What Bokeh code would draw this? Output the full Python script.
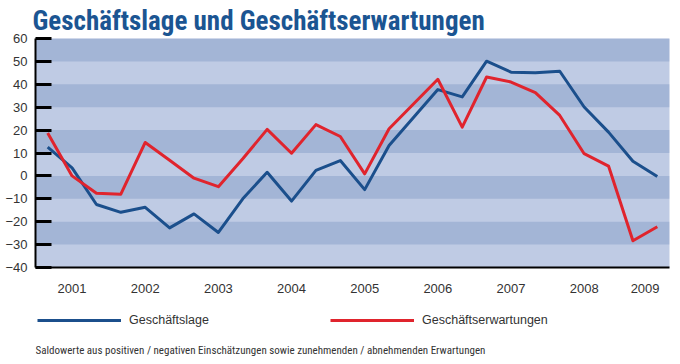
from bokeh.plotting import figure
from bokeh.layouts import column
from bokeh.models import FixedTicker, Label, Legend, LegendItem, BoxAnnotation, Range1d
from bokeh.embed import file_html
from bokeh.resources import INLINE

# ---- data ----
years = ["2001", "2002", "2003", "2004", "2005", "2006", "2007", "2008", "2009"]
surveys_per_year = [3, 3, 3, 3, 3, 3, 3, 3, 2]
geschaeftslage = [12.6, 3.5, -12.5, -15.9, -13.7, -22.7, -16.6, -24.7, -10.0,
                  1.6, -11.0, 2.4, 6.7, -6.0, 13.3, 25.5, 37.7, 34.5, 50.1,
                  45.3, 45.0, 45.7, 30.1, 19.1, 6.4, -0.3]
geschaeftserwartungen = [18.7, 0.0, -7.6, -8.0, 14.6, 6.8, -1.0, -4.7, 7.5,
                         20.3, 9.9, 22.4, 17.2, 0.9, 20.6, 31.4, 42.2, 21.3,
                         43.2, 41.0, 36.4, 26.4, 9.7, 4.3, -28.3, -22.2]
y_ticks = [-40, -30, -20, -10, 0, 10, 20, 30, 40, 50, 60]
band_bottoms = [50, 30, 10, -10, -30]
series_names = ["Geschäftslage", "Geschäftserwartungen"]

title_text = "Geschäftslage und Geschäftserwartungen"
footnote_text = ("Saldowerte aus positiven / negativen Einschätzungen sowie "
                 "zunehmenden / abnehmenden Erwartungen")

# ---- derived positions ----
n = len(geschaeftslage)
xs = list(range(n))
year_centers = []
start = 0
for cnt in surveys_per_year:
    year_centers.append(start + (cnt - 1) / 2)
    start += cnt

BLUE = "#1b4f8c"
RED = "#e0242d"
DARK = "#a3b5d6"
LIGHT = "#bfcbe4"
TXT = "#333333"
NARROW = "'Liberation Sans Narrow', 'Roboto Condensed', 'Liberation Sans', sans-serif"
SANS = "'Liberation Sans', sans-serif"
W = 672
LEFT, RIGHT = 35, 3

# ---- main chart ----
p = figure(width=W, height=300, output_backend="svg", toolbar_location=None,
           x_range=Range1d(-0.5, n - 0.5), y_range=Range1d(y_ticks[0], y_ticks[-1]),
           min_border_left=LEFT, min_border_right=RIGHT, min_border_top=38,
           min_border_bottom=33)
p.outline_line_color = None
p.background_fill_color = LIGHT
p.border_fill_color = "white"
p.xgrid.visible = False
p.ygrid.visible = False

p.title.text = title_text
p.title.text_font = NARROW
p.title.text_font_style = "bold"
p.title.text_font_size = "27px"
p.title.text_color = "#1b5592"
p.title.align = "left"
p.title.offset = -3
p.title.standoff = 4

for b in band_bottoms:
    p.add_layout(BoxAnnotation(bottom=b, top=b + 10, fill_color=DARK,
                               fill_alpha=1, line_color=None, level="underlay"))

p.line(xs, geschaeftslage, line_color=BLUE, line_width=3, line_join="round")
p.line(xs, geschaeftserwartungen, line_color=RED, line_width=3, line_join="round")

ya = p.yaxis[0]
ya.ticker = FixedTicker(ticks=y_ticks)
ya.axis_line_color = "black"
ya.axis_line_width = 2
ya.major_tick_line_color = "black"
ya.major_tick_line_width = 3
ya.major_tick_in = 16
ya.major_tick_out = 0
ya.minor_tick_line_color = None
ya.major_label_standoff = 8
ya.major_label_text_font = SANS
ya.major_label_text_font_size = "13px"
ya.major_label_text_color = TXT

xa = p.xaxis[0]
xa.ticker = FixedTicker(ticks=year_centers)
xa.major_label_overrides = {c: y for c, y in zip(year_centers, years)}
xa.axis_line_color = "black"
xa.axis_line_width = 2
xa.major_tick_line_color = None
xa.minor_tick_line_color = None
xa.major_tick_in = 0
xa.major_tick_out = 0
xa.major_label_standoff = 16
xa.major_label_text_font = SANS
xa.major_label_text_font_size = "13px"
xa.major_label_text_color = TXT

# ---- legend + footnote strip (x in page pixels, y from strip top) ----
H2 = 62
p2 = figure(width=W, height=H2, output_backend="svg", toolbar_location=None,
            x_range=Range1d(LEFT, W - RIGHT), y_range=Range1d(H2, 0),
            x_axis_type=None, y_axis_type=None,
            min_border_left=LEFT, min_border_right=RIGHT,
            min_border_top=0, min_border_bottom=0)
p2.outline_line_color = None
p2.xgrid.visible = False
p2.ygrid.visible = False
# hidden copies of the series, used only as legend sources
k1 = p2.line(xs, geschaeftslage, line_color=BLUE, line_width=3, visible=False)
k2 = p2.line(xs, geschaeftserwartungen, line_color=RED, line_width=3, visible=False)
legend = Legend(items=[LegendItem(label=series_names[0], renderers=[k1]),
                       LegendItem(label=series_names[1], renderers=[k2])],
                orientation="horizontal", location=(2, H2 - 30),
                glyph_width=84, glyph_height=20, label_standoff=8,
                label_width=201, spacing=0, padding=0, margin=0,
                border_line_alpha=0, background_fill_alpha=0,
                label_text_font=SANS, label_text_font_size="12.5px",
                label_text_color=TXT, click_policy="none")
p2.add_layout(legend)
p2.add_layout(Label(x=35, y=50, text=footnote_text, text_font=NARROW,
                    text_font_size="11px", text_color=TXT,
                    text_baseline="alphabetic"))

layout = column(p, p2, spacing=0)
open("out.html", "w").write(file_html(layout, INLINE))
